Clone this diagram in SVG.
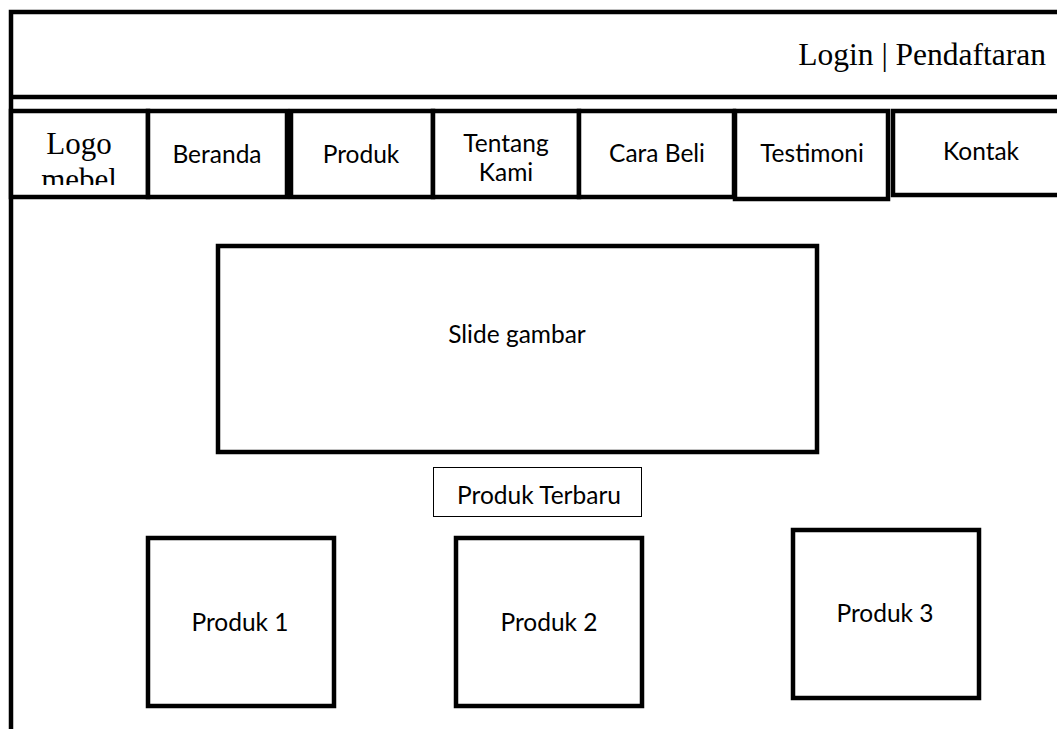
<svg xmlns="http://www.w3.org/2000/svg" width="1057" height="729" viewBox="0 0 1057 729">
<style>
.b{fill:#fff;stroke:#000;stroke-width:4.5}
.l{stroke:#000;stroke-width:4.5;fill:none}
.s{font-family:Lato,"Liberation Sans",sans-serif;font-size:24.5px;fill:#000;text-anchor:middle}
.t{font-family:"Liberation Serif","Times New Roman",serif;fill:#000}
</style>
<defs><clipPath id="lc"><rect x="12" y="113" width="134" height="72"/></clipPath></defs>
<rect width="1057" height="729" fill="#fff"/>
<g id="frame">
<path class="l" d="M11 729 V12 H1060 M11 97 H1060"/>
</g>
<g id="login"><text class="t" x="1046" y="65" font-size="31.5" text-anchor="end">Login | Pendaftaran</text></g>
<g id="nav-logo"><rect class="b" x="11" y="111" width="137" height="86"/>
<text class="t" x="79" y="154" font-size="31" text-anchor="middle">Logo</text>
<text class="t" x="79" y="190" font-size="31" text-anchor="middle" clip-path="url(#lc)">mebel</text></g>
<g id="nav-beranda"><rect class="b" x="148" y="111" width="139" height="86"/><text class="s" x="217" y="163">Beranda</text></g>
<g id="nav-produk"><rect class="b" x="291" y="111" width="142" height="86"/><text class="s" x="361" y="163">Produk</text></g>
<g id="nav-tentang"><rect class="b" x="433" y="111" width="146" height="86"/><text class="s" x="506" y="152">Tentang</text><text class="s" x="506" y="181">Kami</text></g>
<g id="nav-carabeli"><rect class="b" x="579" y="111" width="155" height="86"/><text class="s" x="657" y="162">Cara Beli</text></g>
<g id="nav-testimoni"><rect class="b" x="735" y="111" width="153" height="88"/><text class="s" x="812" y="162">Testimoni</text></g>
<g id="nav-kontak"><rect class="b" x="893" y="111" width="170" height="84"/><text class="s" x="981" y="160">Kontak</text></g>
<g id="slide"><rect class="b" x="218" y="246" width="599" height="206"/><text class="s" x="517" y="343">Slide gambar</text></g>
<g id="produk-terbaru"><rect x="433.5" y="467.5" width="208" height="49" fill="#fff" stroke="#000" stroke-width="1"/><text class="s" x="539" y="504">Produk Terbaru</text></g>
<g id="produk1"><rect class="b" x="148" y="538" width="186" height="168"/><text class="s" x="240" y="631">Produk 1</text></g>
<g id="produk2"><rect class="b" x="456" y="538" width="186" height="168"/><text class="s" x="549" y="631">Produk 2</text></g>
<g id="produk3"><rect class="b" x="793" y="530" width="186" height="168"/><text class="s" x="885" y="622">Produk 3</text></g>
<g id="connectors"/>
</svg>
